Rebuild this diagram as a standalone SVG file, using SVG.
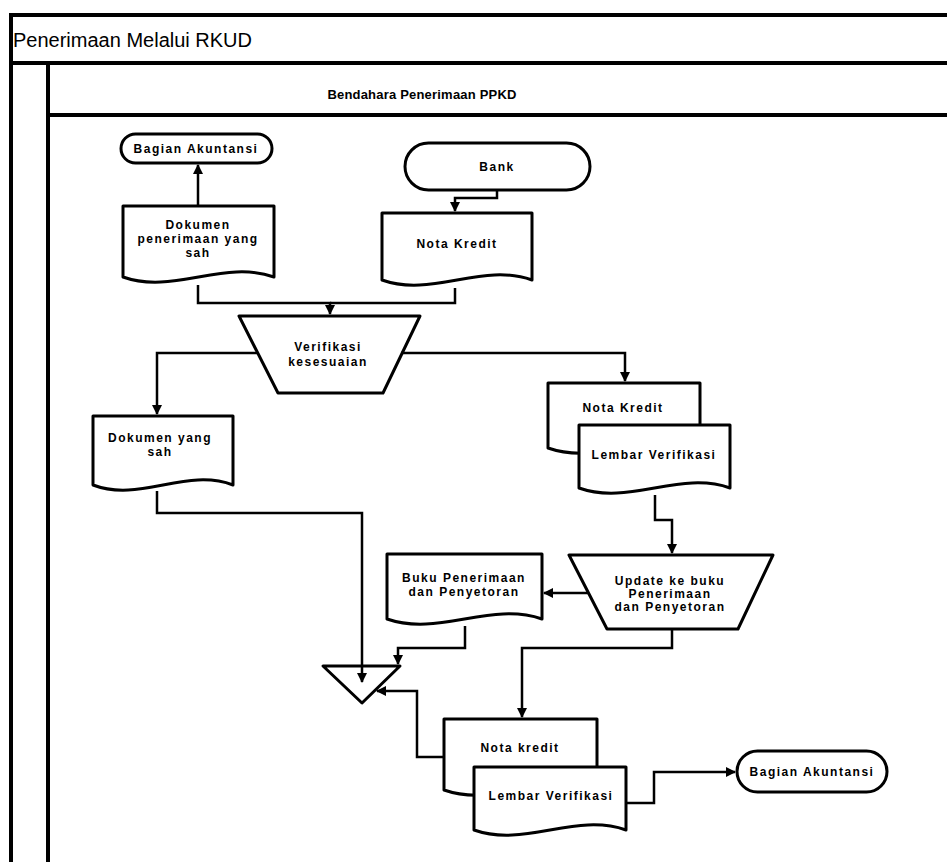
<svg xmlns="http://www.w3.org/2000/svg" width="947" height="862" viewBox="0 0 947 862">
<style>
.frame{stroke:#000;stroke-width:4;fill:none}
.shape{fill:#fff;stroke:#000;stroke-width:3;stroke-linejoin:round}
.conn{fill:none;stroke:#000;stroke-width:2.5}
.t{font-family:"Liberation Sans",Arial,sans-serif;font-weight:bold;font-size:12px;letter-spacing:1.5px;text-anchor:middle;fill:#000}
.title{font-family:"Liberation Sans",Arial,sans-serif;font-size:20px;fill:#000}
.lane{font-family:"Liberation Sans",Arial,sans-serif;font-weight:bold;font-size:13px;letter-spacing:0.2px;text-anchor:middle;fill:#000}
</style>
<defs>
<marker id="ah" viewBox="0 0 10 10" refX="9" refY="5" markerWidth="4.4" markerHeight="4" markerUnits="strokeWidth" orient="auto">
<path d="M0,0 L10,5 L0,10 z" fill="#000"/>
</marker>
</defs>
<rect width="947" height="862" fill="#fff"/>
<g id="pool">
<line class="frame" x1="10" y1="15" x2="947" y2="15"/>
<line class="frame" x1="10" y1="63" x2="947" y2="63"/>
<line class="frame" x1="48" y1="115" x2="947" y2="115"/>
<line class="frame" x1="11" y1="13" x2="11" y2="862"/>
<line class="frame" x1="48" y1="63" x2="48" y2="862"/>
<text class="title" x="13" y="47">Penerimaan Melalui RKUD</text>
<text class="lane" x="422" y="99">Bendahara Penerimaan PPKD</text>
</g>
<g id="bagian-akuntansi-1">
<rect class="shape" x="121" y="134" width="151" height="29" rx="14.5"/>
<text class="t" x="196" y="153">Bagian Akuntansi</text>
</g>
<g id="bank">
<rect class="shape" x="405" y="143" width="185" height="47" rx="23.5"/>
<text class="t" x="497" y="171">Bank</text>
</g>
<g id="dokumen-penerimaan">
<path class="shape" d="M123,206 H274 V277 C224,259 173,295 123,277 Z"/>
<text class="t" x="198" y="229">Dokumen</text>
<text class="t" x="198" y="243">penerimaan yang</text>
<text class="t" x="198" y="257">sah</text>
</g>
<g id="nota-kredit-1">
<path class="shape" d="M382,213 H532 V280 C482,262 432,298 382,280 Z"/>
<text class="t" x="457" y="248">Nota Kredit</text>
</g>
<g id="verifikasi">
<path class="shape" d="M239,316 H420 L383,393 H278 Z"/>
<text class="t" x="328" y="351">Verifikasi</text>
<text class="t" x="328" y="366">kesesuaian</text>
</g>
<g id="dokumen-sah">
<path class="shape" d="M93,416 H233 V485 C186,467 140,503 93,485 Z"/>
<text class="t" x="160" y="442">Dokumen yang</text>
<text class="t" x="160" y="456">sah</text>
</g>
<g id="nota-kredit-2">
<path class="shape" d="M548,383 H700 V448 C649,430 599,466 548,448 Z"/>
<text class="t" x="623" y="412">Nota Kredit</text>
</g>
<g id="lembar-verifikasi-1">
<path class="shape" d="M579,425 H730 V488 C680,470 629,506 579,488 Z"/>
<text class="t" x="654" y="459">Lembar Verifikasi</text>
</g>
<g id="update">
<path class="shape" d="M569,555 H773 L738,629 H607 Z"/>
<text class="t" x="670" y="585">Update ke buku</text>
<text class="t" x="670" y="598">Penerimaan</text>
<text class="t" x="670" y="611">dan Penyetoran</text>
</g>
<g id="buku-penerimaan">
<path class="shape" d="M387,554 H542 V619 C490,601 439,637 387,619 Z"/>
<text class="t" x="464" y="582">Buku Penerimaan</text>
<text class="t" x="464" y="596">dan Penyetoran</text>
</g>
<g id="merge">
<path class="shape" d="M323,666 H400 L362,703 Z"/>
</g>
<g id="nota-kredit-3">
<path class="shape" d="M444,719 H597 V790 C546,772 495,808 444,790 Z"/>
<text class="t" x="520" y="752">Nota kredit</text>
</g>
<g id="lembar-verifikasi-2">
<path class="shape" d="M474,767 H626 V830 C575,812 525,848 474,830 Z"/>
<text class="t" x="551" y="800">Lembar Verifikasi</text>
</g>
<g id="bagian-akuntansi-2">
<rect class="shape" x="737" y="751" width="150" height="41" rx="20.5"/>
<text class="t" x="812" y="776">Bagian Akuntansi</text>
</g>
<g id="connectors">
<path class="conn" d="M198,206 V165" marker-end="url(#ah)"/>
<path class="conn" d="M198,285 V303 H330 V314" marker-end="url(#ah)"/>
<path class="conn" d="M455,288 V303 H330"/>
<path class="conn" d="M497,190 V198 H455 V211" marker-end="url(#ah)"/>
<path class="conn" d="M258,353 H157 V414" marker-end="url(#ah)"/>
<path class="conn" d="M401,353 H625 V381" marker-end="url(#ah)"/>
<path class="conn" d="M157,491 V513 H362 V682" marker-end="url(#ah)"/>
<path class="conn" d="M655,495 V520 H672 V553" marker-end="url(#ah)"/>
<path class="conn" d="M588,593 H544" marker-end="url(#ah)"/>
<path class="conn" d="M465,626 V648 H398 V664" marker-end="url(#ah)"/>
<path class="conn" d="M672,630 V648 H522 V717" marker-end="url(#ah)"/>
<path class="conn" d="M443,757 H417 V691 H377" marker-end="url(#ah)"/>
<path class="conn" d="M627,803 H654 V772 H735" marker-end="url(#ah)"/>
</g>
</svg>
